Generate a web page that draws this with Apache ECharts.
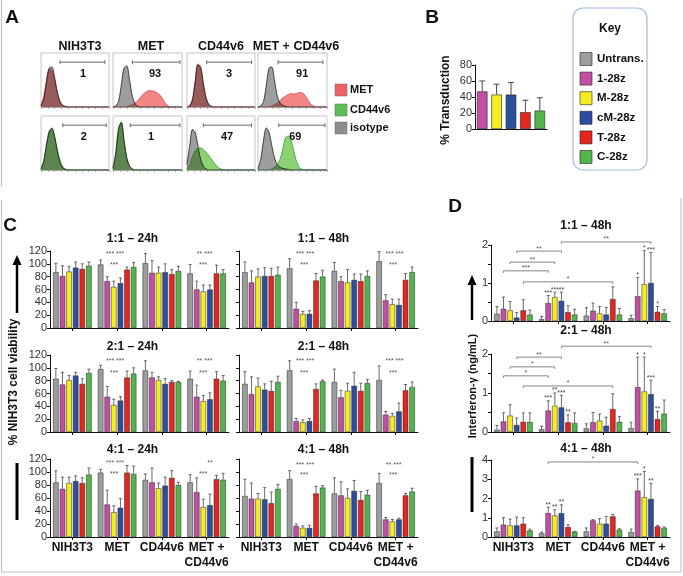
<!DOCTYPE html>
<html><head><meta charset="utf-8">
<script src="https://cdn.jsdelivr.net/npm/echarts@6/dist/echarts.min.js"></script>
<style>html,body{margin:0;padding:0;background:#fff}#c{width:683px;height:576px}</style>
</head><body><div id="c"></div>
<script>
// ================= DATA =================
const groups = ['NIH3T3', 'MET', 'CD44v6', 'MET +\nCD44v6'];
const carNames = ['Untrans.', '1-28z', 'M-28z', 'cM-28z', 'T-28z', 'C-28z'];
const carColors = ['#9d9d9d', '#c34fa2', '#f5ec22', '#2f4d9d', '#e4261f', '#52b64c'];

// Panel A: flow cytometry histograms (bin positions, normalized counts)
const histCols = ['NIH3T3', 'MET', 'CD44v6', 'MET + CD44v6'];
const hBins = [0,0.04,0.08,0.12,0.16,0.2,0.24,0.28,0.32,0.36,0.4,0.44,0.48,0.52,0.56,0.6,0.64,0.68,0.72,0.76,0.8,0.84,0.88,0.92,0.96,1];
const isoMetNIH  = [0.02,0.15,0.45,0.72,0.74,0.55,0.28,0.10,0.03,0.01,0,0,0,0,0,0,0,0,0,0,0,0,0,0,0,0];
const metNIH     = [0.03,0.20,0.50,0.70,0.68,0.50,0.25,0.10,0.03,0.01,0,0,0,0,0,0,0,0,0,0,0,0,0,0,0,0];
const isoMetMET  = [0,0.02,0.10,0.40,0.72,0.76,0.50,0.20,0.06,0.01,0,0,0,0,0,0,0,0,0,0,0,0,0,0,0,0];
const metMET     = [0,0,0,0,0,0.01,0.02,0.04,0.07,0.12,0.18,0.24,0.28,0.30,0.30,0.29,0.26,0.22,0.15,0.07,0.02,0,0,0,0,0];
const isoMetCD   = [0,0.02,0.12,0.45,0.78,0.75,0.45,0.18,0.05,0.01,0,0,0,0,0,0,0,0,0,0,0,0,0,0,0,0];
const metCD      = [0,0.03,0.15,0.50,0.80,0.70,0.40,0.15,0.04,0.01,0,0,0,0,0,0,0,0,0,0,0,0,0,0,0,0];
const isoMetBoth = [0,0.02,0.10,0.40,0.72,0.74,0.48,0.20,0.07,0.03,0.01,0,0,0,0,0,0,0,0,0,0,0,0,0,0,0];
const metBoth    = [0,0,0,0,0,0.02,0.04,0.07,0.12,0.17,0.20,0.23,0.25,0.24,0.25,0.27,0.26,0.22,0.14,0.06,0.02,0,0,0,0,0];
const isoCdNIH   = [0.02,0.15,0.45,0.70,0.78,0.62,0.35,0.14,0.04,0.01,0,0,0,0,0,0,0,0,0,0,0,0,0,0,0,0];
const cdNIH      = [0.03,0.18,0.48,0.72,0.76,0.62,0.38,0.18,0.06,0.02,0,0,0,0,0,0,0,0,0,0,0,0,0,0,0,0];
const isoCdMET   = [0.03,0.30,0.75,0.88,0.55,0.22,0.07,0.02,0,0,0,0,0,0,0,0,0,0,0,0,0,0,0,0,0,0];
const cdMET      = [0.03,0.32,0.78,0.89,0.55,0.22,0.07,0.02,0,0,0,0,0,0,0,0,0,0,0,0,0,0,0,0,0,0];
const isoCdCD    = [0.10,0.45,0.75,0.70,0.45,0.20,0.07,0.02,0,0,0,0,0,0,0,0,0,0,0,0,0,0,0,0,0,0];
const cdCD       = [0.02,0.10,0.25,0.36,0.40,0.41,0.38,0.33,0.27,0.20,0.13,0.07,0.03,0.01,0,0,0,0,0,0,0,0,0,0,0,0];
const isoCdBoth  = [0.02,0.20,0.55,0.78,0.70,0.45,0.22,0.10,0.05,0.03,0.02,0.01,0,0,0,0,0,0,0,0,0,0,0,0,0,0];
const cdBoth     = [0,0,0,0,0,0.02,0.05,0.10,0.20,0.40,0.60,0.63,0.55,0.35,0.15,0.05,0.01,0,0,0,0,0,0,0,0,0];
const gatePctMet = [1, 93, 3, 91];
const gatePctCd  = [2, 1, 47, 69];

// Panel B: % transduction
const transCars = ['1-28z', 'M-28z', 'cM-28z', 'T-28z', 'C-28z'];
const transMean = [47, 43, 43, 21, 23];
const transErrTop = [60, 56, 58, 36, 39];

// Panel C: % NIH3T3 cell viability  [car][group]
const v11_24 = [[87,99,101,85],[81,73,86,60],[88,64,86,57],[94,70,87,60],[92,91,84,85],[97,95,89,85]];
const v11_24e = [[101,106,116,99],[97,80,105,73],[96,73,95,67],[103,78,100,67],[100,95,91,98],[103,102,96,91]];
const v21_24 = [[83,98,96,83],[74,55,85,55],[81,42,81,48],[88,49,75,51],[75,85,78,83],[92,91,78,80]];
const v21_24e = [[99,104,111,95],[93,71,93,73],[88,51,86,57],[93,55,83,61],[83,95,80,94],[98,100,79,88]];
const v41_24 = [[84,99,88,84],[74,50,84,69],[83,38,75,46],[86,45,79,49],[83,99,91,89],[96,97,80,88]];
const v41_24e = [[102,104,97,96],[92,72,106,91],[92,48,83,58],[94,59,92,66],[91,110,102,95],[106,109,84,98]];
const v11_48 = [[87,93,89,104],[71,30,73,43],[80,22,71,37],[81,22,75,36],[81,74,73,75],[83,80,81,87]];
const v11_48e = [[103,108,102,119],[89,40,80,52],[92,26,91,45],[94,27,84,45],[93,85,84,85],[95,90,89,95]];
const v21_48 = [[75,96,78,81],[59,17,54,27],[71,15,64,25],[66,17,72,32],[64,67,64,65],[78,79,76,70]];
const v21_48e = [[94,111,98,103],[86,21,65,32],[84,19,76,29],[75,21,93,45],[79,75,76,74],[87,81,82,78]];
const v41_48 = [[63,89,67,83],[59,17,64,27],[59,14,60,24],[58,14,71,27],[52,67,57,64],[74,76,65,70]];
const v41_48e = [[89,102,91,98],[83,20,85,30],[67,17,74,27],[76,18,87,29],[69,78,70,67],[81,79,72,75]];

// Panel D: Interferon-gamma (ng/mL) [car][group]
const i11 = [[0.19,0.05,0.14,0.07],[0.32,0.47,0.27,0.65],[0.28,0.63,0.20,0.97],[0.09,0.53,0.17,1.00],[0.28,0.23,0.58,0.24],[0.17,0.17,0.17,0.20]];
const i11e = [[0.38,0.12,0.35,0.15],[0.63,0.67,0.47,1.15],[0.51,0.76,0.38,1.85],[0.22,0.76,0.36,1.80],[0.56,0.40,0.90,0.38],[0.29,0.31,0.33,0.30]];
const i21 = [[0.06,0.07,0.09,0.10],[0.27,0.55,0.25,1.15],[0.42,0.67,0.29,1.04],[0.18,0.63,0.16,0.97],[0.26,0.25,0.59,0.33],[0.26,0.23,0.26,0.47]];
const i21e = [[0.17,0.15,0.21,0.25],[0.49,0.80,0.50,1.92],[0.70,1.00,0.46,1.92],[0.36,0.94,0.38,1.33],[0.49,0.44,0.98,0.53],[0.49,0.49,0.40,0.82]];
const i41 = [[0.29,0.20,0.29,0.26],[0.64,1.24,0.86,2.41],[0.60,1.12,0.69,2.07],[0.60,1.24,0.69,1.98],[0.69,0.52,1.07,0.55],[0.34,0.28,0.38,0.47]];
const i41e = [[0.47,0.26,0.47,0.41],[1.00,1.55,0.90,3.02],[0.93,1.41,0.95,3.40],[1.03,1.67,1.07,2.79],[1.00,0.64,1.17,0.60],[0.41,0.29,0.43,0.52]];

// significance labels
const starsC1 = [[1,-2,118,'*** ***'],[1,-3,101,'***'],[3,-2,118,'** ***'],[3,-3.5,101,'***']];
const starsC2 = [[1,-2,114,'*** ***'],[1,-3,95,'***'],[3,-2,114,'** ***'],[3,-3.5,95,'***']];
const starsC3 = [[1,-2,117,'*** ***'],[1,-3,100,'***'],[3,3.4,117,'**'],[3,-3.6,100,'***']];
const starsC4 = [[1,-1,118,'*** ***'],[1,-2,101,'***'],[3,-1,118,'*** ***'],[3,-2.5,101,'***']];
const starsC5 = [[1,-1,114,'*** ***'],[1,-2,95,'***'],[3,-1,114,'*** ***'],[3,-2.5,95,'***']];
const starsC6 = [[1,-1,114,'*** ***'],[1,-2,98.5,'***'],[3,-2,114,'** ***'],[3,-2.5,98.5,'***']];
const starsD1 = [[1,1,'***'],[1,2,'***'],[1,3,'**'],[3,1,'*'],[3,2,'*'],[3,3,'***'],[3,4,'*']];
const starsD2 = [[1,1,'***'],[1,2,'**'],[1,3,'***'],[1,4,'**'],[3,1,'*'],[3,2,'*'],[3,3,'***'],[3,4,'**']];
const starsD3 = [[1,1,'**'],[1,2,'**'],[1,3,'**'],[3,1,'***'],[3,2,'*'],[3,3,'**']];
const bracketsD1 = [[0,3,1,3,1.84,'**'],[1,3,3,3,2.08,'**'],[0,2,1,2,1.55,'**'],[0,1,1,1,1.32,'***'],[0,4,2,4,1.03,'*']];
const bracketsD2 = [[0,3,1,3,1.92,'**'],[1,3,3,3,2.2,'**'],[0,2,1,2,1.67,'*'],[0,1,1,1,1.44,'*'],[0,4,2,4,1.18,'*']];
const bracketsD3 = [[1,1,3,1,3.9,'*']];

// ================= CHART =================
const FONT = '"Liberation Sans", Arial, Helvetica, sans-serif';
const BW = 5.5, GAPR = 0.2, STEP = BW * (1 + GAPR);
const grids = [], xAxes = [], yAxes = [], series = [], gfx = [];

function addGrid(rect, xa, ya, gextra) {
  const i = grids.length;
  grids.push(Object.assign({left: rect[0], top: rect[1], width: rect[2], height: rect[3]}, gextra || {}));
  xAxes.push(Object.assign({gridIndex: i}, xa));
  yAxes.push(Object.assign({gridIndex: i}, ya));
  return i;
}

// ---- Panel A ----
const histRows = [
  {top: 53, iso: [isoMetNIH, isoMetMET, isoMetCD, isoMetBoth], st: [metNIH, metMET, metCD, metBoth], pct: gatePctMet,
   fill: '#f28585', line: '#d84a4a', gate: [[0.28,0.94],[0.28,0.97],[0.29,0.95],[0.29,0.94]], numX: [0.62,0.61,0.62,0.64]},
  {top: 116, iso: [isoCdNIH, isoCdMET, isoCdCD, isoCdBoth], st: [cdNIH, cdMET, cdCD, cdBoth], pct: gatePctCd,
   fill: '#8ad272', line: '#3e9b39', gate: [[0.32,0.96],[0.25,0.97],[0.24,0.95],[0.30,0.97]], numX: [0.63,0.55,0.59,0.54]}
];
const histLefts = [41, 113, 187, 258], histW = [68, 69, 68, 69];
histRows.forEach(row => {
  for (let c = 0; c < 4; c++) {
    const gi = addGrid([histLefts[c], row.top, histW[c], 54],
      {type: 'value', min: 0, max: 1, interval: 0.1, axisLine: {show: true, lineStyle: {color: '#999', width: 0.8}},
       axisTick: {show: true, length: 2, lineStyle: {color: '#999', width: 0.8}}, axisLabel: {show: false}, splitLine: {show: false}},
      {type: 'value', min: 0, max: 1, show: false},
      {show: true, borderColor: '#b5b5b5', borderWidth: 0.8});
    series.push({type: 'line', xAxisIndex: gi, yAxisIndex: gi, smooth: 0.3, symbol: 'none', silent: true,
      data: hBins.map((x, k) => [x, row.st[c][k]]), lineStyle: {color: row.line, width: 0.8},
      areaStyle: {color: row.fill, opacity: 1}, z: 2});
    series.push({type: 'line', xAxisIndex: gi, yAxisIndex: gi, smooth: 0.3, symbol: 'none', silent: true,
      data: hBins.map((x, k) => [x, row.iso[c][k]]), lineStyle: {color: '#1a1a1a', width: 0.8},
      areaStyle: {color: 'rgba(40,40,40,0.45)', opacity: 1}, z: 3});
    const g = row.gate[c], pct = row.pct[c], nx = row.numX[c];
    series.push({type: 'custom', xAxisIndex: gi, yAxisIndex: gi, silent: true, z: 5,
      data: [[g[0], 0.83, g[1]]],
      renderItem(p, api) {
        const a = api.coord([api.value(0), api.value(1)]), b = api.coord([api.value(2), api.value(1)]);
        const n = api.coord([nx, 0.62]);
        return {type: 'group', children: [
          {type: 'line', shape: {x1: a[0], y1: a[1], x2: b[0], y2: b[1]}, style: {stroke: '#6a6a6a', lineWidth: 1}},
          {type: 'line', shape: {x1: a[0], y1: a[1] - 2, x2: a[0], y2: a[1] + 2}, style: {stroke: '#6a6a6a', lineWidth: 1}},
          {type: 'line', shape: {x1: b[0], y1: b[1] - 2, x2: b[0], y2: b[1] + 2}, style: {stroke: '#6a6a6a', lineWidth: 1}},
          {type: 'text', x: n[0], y: n[1], style: {text: String(pct), fill: '#111', font: 'bold 11px ' + FONT, align: 'center', verticalAlign: 'middle'}}
        ]};
      }});
  }
});

// ---- Panel B ----
{
  const gi = addGrid([475, 65, 72, 64],
    {type: 'category', data: transCars, axisLine: {lineStyle: {color: '#111', width: 1}}, axisTick: {show: false}, axisLabel: {show: false}},
    {type: 'value', min: 0, max: 80, interval: 20, axisLine: {show: true, lineStyle: {color: '#111', width: 1}},
     axisTick: {show: true, length: 3}, axisLabel: {fontSize: 11, color: '#333', fontFamily: FONT, margin: 3}, splitLine: {show: false}});
  series.push({type: 'bar', xAxisIndex: gi, yAxisIndex: gi, barWidth: 10.5, silent: true,
    data: transMean.map((v, k) => ({value: v, itemStyle: {color: carColors[k + 1]}})),
    itemStyle: {borderColor: '#222', borderWidth: 0.6}, z: 2});
  series.push({type: 'custom', xAxisIndex: gi, yAxisIndex: gi, silent: true, z: 3,
    data: transMean.map((v, k) => [k, v, transErrTop[k]]),
    renderItem(p, api) {
      const a = api.coord([api.value(0), api.value(1)]), b = api.coord([api.value(0), api.value(2)]);
      return {type: 'group', children: [
        {type: 'line', shape: {x1: a[0], y1: a[1], x2: b[0], y2: b[1]}, style: {stroke: '#333', lineWidth: 0.9}},
        {type: 'line', shape: {x1: b[0] - 3, y1: b[1], x2: b[0] + 3, y2: b[1]}, style: {stroke: '#333', lineWidth: 0.9}}
      ]};
    }});
}

// ---- grouped bar helpers ----
function groupedPanel(rect, mean, errTop, yMax, yInt, showY, showX, yFmt) {
  const gi = addGrid(rect,
    {type: 'category', data: groups, axisLine: {lineStyle: {color: '#111', width: 1}},
     axisTick: {show: true, alignWithLabel: true, length: 3, lineStyle: {color: '#111'}},
     axisLabel: {show: showX, interval: 0, fontSize: 12, fontWeight: 'bold', color: '#111', fontFamily: FONT, lineHeight: 15, margin: 3}},
    {type: 'value', min: 0, max: yMax, interval: yInt, axisLine: {show: true, lineStyle: {color: '#111', width: 1}},
     axisTick: {show: true, length: 3, lineStyle: {color: '#111'}},
     axisLabel: {show: showY, fontSize: 11, color: '#333', fontFamily: FONT, margin: 3, formatter: yFmt},
     splitLine: {show: false}});
  for (let s = 0; s < 6; s++) {
    series.push({type: 'bar', name: carNames[s], xAxisIndex: gi, yAxisIndex: gi, data: mean[s], barWidth: BW, barGap: (GAPR * 100) + '%',
      silent: true, itemStyle: {color: carColors[s], borderColor: '#222', borderWidth: 0.5}, z: 2});
  }
  const ed = [];
  for (let s = 0; s < 6; s++) for (let g = 0; g < 4; g++) ed.push([g, mean[s][g], errTop[s][g], s]);
  series.push({type: 'custom', xAxisIndex: gi, yAxisIndex: gi, silent: true, z: 3, data: ed,
    renderItem(p, api) {
      const s = api.value(3);
      const a = api.coord([api.value(0), api.value(1)]), b = api.coord([api.value(0), api.value(2)]);
      const x = a[0] + (s - 2.5) * STEP;
      return {type: 'group', children: [
        {type: 'line', shape: {x1: x, y1: a[1], x2: x, y2: b[1]}, style: {stroke: '#444', lineWidth: 0.8}},
        {type: 'line', shape: {x1: x - 1.5, y1: b[1], x2: x + 1.5, y2: b[1]}, style: {stroke: '#444', lineWidth: 0.8}}
      ]};
    }});
  return gi;
}
function textStars(gi, list) {
  series.push({type: 'custom', xAxisIndex: gi, yAxisIndex: gi, silent: true, z: 6,
    data: list.map((d, k) => [d[0], d[2], d[1], k]),
    renderItem(p, api) {
      const c = api.coord([api.value(0), api.value(1)]);
      return {type: 'text', x: c[0] + api.value(2), y: c[1] + 2,
        style: {text: list[api.value(3)][3], fill: '#555', font: '7px ' + FONT, align: 'center', verticalAlign: 'middle'}};
    }});
}
function barStars(gi, list, errTop) {
  series.push({type: 'custom', xAxisIndex: gi, yAxisIndex: gi, silent: true, z: 6,
    data: list.map((d, k) => [d[0], errTop[d[1]][d[0]], d[1], k]),
    renderItem(p, api) {
      const c = api.coord([api.value(0), api.value(1)]);
      return {type: 'text', x: c[0] + (api.value(2) - 2.5) * STEP, y: c[1] + 1,
        style: {text: list[api.value(3)][2], fill: '#444', font: '7px ' + FONT, align: 'center', verticalAlign: 'bottom'}};
    }});
}
function brackets(gi, list) {
  series.push({type: 'custom', xAxisIndex: gi, yAxisIndex: gi, silent: true, z: 6,
    data: list.map((d, k) => [d[0], d[4], d[2], d[1], d[3], k]),
    renderItem(p, api) {
      const a = api.coord([api.value(0), api.value(1)]), b = api.coord([api.value(2), api.value(1)]);
      const x1 = a[0] + (api.value(3) - 2.5) * STEP, x2 = b[0] + (api.value(4) - 2.5) * STEP, y = a[1];
      const st = {stroke: '#777', lineWidth: 0.9};
      return {type: 'group', children: [
        {type: 'line', shape: {x1: x1, y1: y, x2: x2, y2: y}, style: st},
        {type: 'line', shape: {x1: x1, y1: y, x2: x1, y2: y + 2}, style: st},
        {type: 'line', shape: {x1: x2, y1: y, x2: x2, y2: y + 2}, style: st},
        {type: 'text', x: (x1 + x2) / 2, y: y + 1, style: {text: list[api.value(5)][5], fill: '#555', font: '7px ' + FONT, align: 'center', verticalAlign: 'bottom'}}
      ]};
    }});
}

// ---- Panel C ----
const cRowsTop = [251, 355, 459];
const cRowsH = [77, 77, 78];
const cL = [50, 239], cW = 179;
const cData = [[v11_24, v11_24e, starsC1, '1:1 \u2013 24h'], [v21_24, v21_24e, starsC2, '2:1 \u2013 24h'], [v41_24, v41_24e, starsC3, '4:1 \u2013 24h'],
               [v11_48, v11_48e, starsC4, '1:1 \u2013 48h'], [v21_48, v21_48e, starsC5, '2:1 \u2013 48h'], [v41_48, v41_48e, starsC6, '4:1 \u2013 48h']];
const cTitleY = [239, 347, 450];
cData.forEach((d, k) => {
  const col = Math.floor(k / 3), row = k % 3;
  const gi = groupedPanel([cL[col], cRowsTop[row], cW, cRowsH[row]], d[0], d[1], 120, 20, col === 0, row === 2);
  textStars(gi, d[2]);
  gfx.push({type: 'text', x: cL[col] + cW / 2 + (col === 0 ? -7 : -5), y: cTitleY[row],
    style: {text: d[3], font: 'bold 12px ' + FONT, fill: '#111', align: 'center', verticalAlign: 'middle'}});
});

// ---- Panel D ----
const dFmt = v => (Math.abs(v - Math.round(v)) < 1e-6 ? String(Math.round(v)) : '');
const dPanels = [
  [[491, 245, 179, 76], i11, i11e, 2, 0.5, starsD1, bracketsD1, '1:1 \u2013 48h', 226, false],
  [[491, 354, 179, 78], i21, i21e, 2, 0.5, starsD2, bracketsD2, '2:1 \u2013 48h', 331, false],
  [[491, 460, 179, 77], i41, i41e, 4, 1, starsD3, bracketsD3, '4:1 \u2013 48h', 449, true]
];
dPanels.forEach(d => {
  const gi = groupedPanel(d[0], d[1], d[2], d[3], d[4], true, d[9], dFmt);
  barStars(gi, d[5], d[2]);
  brackets(gi, d[6]);
  gfx.push({type: 'text', x: 586, y: d[8], style: {text: d[7], font: 'bold 12px ' + FONT, fill: '#111', align: 'center', verticalAlign: 'middle'}});
});

// ---- decorations / text ----
const letters = [['A', 12, 18], ['B', 432, 18], ['C', 10, 226], ['D', 455, 207]];
letters.forEach(l => gfx.push({type: 'text', x: l[1], y: l[2], style: {text: l[0], font: 'bold 19px ' + FONT, fill: '#111', align: 'center', verticalAlign: 'middle'}}));
const colTitleX = [80, 151, 221, 296];
histCols.forEach((t, k) => gfx.push({type: 'text', x: colTitleX[k], y: 47, style: {text: t, font: 'bold 12.5px ' + FONT, fill: '#111', align: 'center', verticalAlign: 'middle'}}));
// legend A
const legA = [['MET', '#f06262', 90], ['CD44v6', '#5cbf55', 110], ['isotype', '#8e8e8e', 128]];
legA.forEach(l => {
  gfx.push({type: 'rect', shape: {x: 335, y: l[2] - 6, width: 12, height: 12}, style: {fill: l[1], stroke: '#666', lineWidth: 0.5}});
  gfx.push({type: 'text', x: 350, y: l[2], style: {text: l[0], font: 'bold 11px ' + FONT, fill: '#111', verticalAlign: 'middle'}});
});
// key
gfx.push({type: 'rect', shape: {x: 573, y: 8, width: 74, height: 162, r: 10}, style: {fill: '#fff', stroke: '#9dbbe0', lineWidth: 1.2}});
gfx.push({type: 'text', x: 610, y: 29, style: {text: 'Key', font: 'bold 12px ' + FONT, fill: '#111', align: 'center', verticalAlign: 'middle'}});
carNames.forEach((n, k) => {
  const y = 59 + k * 19.6;
  gfx.push({type: 'rect', shape: {x: 580, y: y - 6.5, width: 12, height: 13}, style: {fill: carColors[k], stroke: '#222', lineWidth: 0.6}});
  gfx.push({type: 'text', x: 597, y: y, style: {text: n, font: 'bold 11.5px ' + FONT, fill: '#111', verticalAlign: 'middle'}});
});
// axis titles
gfx.push({type: 'text', x: 446, y: 100, rotation: Math.PI / 2, style: {text: '% Transduction', font: 'bold 12px ' + FONT, fill: '#111', align: 'center', verticalAlign: 'middle'}});
gfx.push({type: 'text', x: 14, y: 382, rotation: Math.PI / 2, style: {text: '% NIH3T3 cell viability', font: 'bold 12px ' + FONT, fill: '#111', align: 'center', verticalAlign: 'middle'}});
gfx.push({type: 'text', x: 473, y: 386, rotation: Math.PI / 2, style: {text: 'Interferon-\u03b3 (ng/mL)', font: 'bold 11px ' + FONT, fill: '#111', align: 'center', verticalAlign: 'middle'}});
// arrows and bars
gfx.push({type: 'line', shape: {x1: 17, y1: 263, x2: 17, y2: 313}, style: {stroke: '#000', lineWidth: 2.5}});
gfx.push({type: 'polygon', shape: {points: [[12.5, 265], [21.5, 265], [17, 255]]}, style: {fill: '#000'}});
gfx.push({type: 'rect', shape: {x: 15.5, y: 463, width: 3, height: 57}, style: {fill: '#000'}});
gfx.push({type: 'line', shape: {x1: 472, y1: 283, x2: 472, y2: 320}, style: {stroke: '#000', lineWidth: 2.5}});
gfx.push({type: 'polygon', shape: {points: [[467.5, 285], [476.5, 285], [472, 275]]}, style: {fill: '#000'}});
gfx.push({type: 'rect', shape: {x: 470.5, y: 457, width: 3, height: 55}, style: {fill: '#000'}});
// frames
gfx.push({type: 'line', shape: {x1: 1.5, y1: 0, x2: 1.5, y2: 187}, style: {stroke: '#c4c4c4', lineWidth: 1.2}});
gfx.push({type: 'polyline', shape: {points: [[1.5, 200], [1.5, 572], [681, 572], [681, 198]]}, style: {stroke: '#c4c4c4', lineWidth: 1.2, fill: null}});

const chart = echarts.init(document.getElementById('c'), null, {renderer: 'canvas'});
chart.setOption({
  backgroundColor: '#fff',
  animation: false,
  textStyle: {fontFamily: FONT},
  grid: grids, xAxis: xAxes, yAxis: yAxes, series: series,
  graphic: {elements: gfx}
});
</script></body></html>
